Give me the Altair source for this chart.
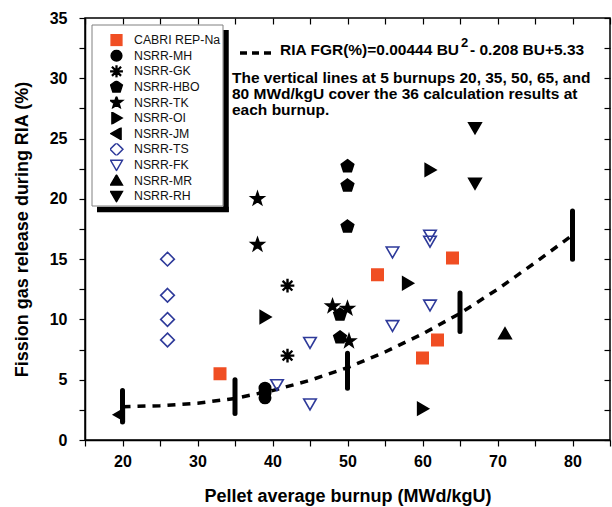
import altair as alt
import pandas as pd

# ---------------- data ----------------
series_names = ["CABRI REP-Na", "NSRR-MH", "NSRR-GK", "NSRR-HBO", "NSRR-TK", "NSRR-OI",
                "NSRR-JM", "NSRR-TS", "NSRR-FK", "NSRR-MR", "NSRR-RH"]

cabri_x = [33, 54, 64, 60, 62]
cabri_y = [5.5, 13.7, 15.1, 6.8, 8.3]
mh_x = [39, 39, 39]
mh_y = [3.5, 3.9, 4.3]
gk_x = [42, 42]
gk_y = [12.8, 7.0]
hbo_x = [50, 50, 50, 49, 49]
hbo_y = [22.7, 21.1, 17.7, 10.4, 8.5]
tk_x = [38, 38, 48, 50, 50.2]
tk_y = [20.0, 16.2, 11.1, 10.9, 8.2]
oi_x = [39, 61, 58, 60]
oi_y = [10.2, 22.4, 13.0, 2.6]
jm_x = [19.6]
jm_y = [2.1]
ts_x = [26, 26, 26, 26]
ts_y = [15.0, 12.0, 10.0, 8.3]
fk_x = [40.6, 45, 45, 56, 56, 61, 61, 61]
fk_y = [4.6, 8.1, 3.0, 15.6, 9.5, 17.0, 16.5, 11.2]
mr_x = [71]
mr_y = [8.8]
rh_x = [67, 67]
rh_y = [25.9, 21.3]

# calculation ranges (vertical bars)
bar_x = [20, 35, 50, 65, 80]
bar_lo = [1.5, 2.2, 4.3, 9.0, 15.0]
bar_hi = [4.1, 5.0, 7.2, 12.2, 19.0]

# fitted curve
fit_x = [20, 25, 30, 35, 40, 45, 50, 55, 60, 65, 70, 75, 80]
fit_y = [2.75, 2.85, 3.05, 3.45, 4.1, 4.95, 6.0, 7.3, 8.8, 10.5, 12.5, 14.7, 17.0]

x_ticks = [15, 20, 25, 30, 35, 40, 45, 50, 55, 60, 65, 70, 75, 80, 85]
y_ticks = [0, 2.5, 5, 7.5, 10, 12.5, 15, 17.5, 20, 22.5, 25, 27.5, 30, 32.5, 35]

# ---------------- styles ----------------
ORANGE = "#F04E23"
BLUE = "#2E3A9A"
BLACK = "#000000"
PENTAGON = "M0,-1.15 L1.094,-0.355 L0.676,0.93 L-0.676,0.93 L-1.094,-0.355 Z"
STAR = ("M0,-1.2 L0.282,-0.389 L1.141,-0.371 L0.456,0.149 L0.705,0.971 L0,0.48 "
        "L-0.705,0.971 L-0.456,0.149 L-1.141,-0.371 L-0.282,-0.389 Z")
ASTER = ("M-0.07,-1.2 L-0.07,1.2 M0.07,-1.2 L0.07,1.2 "
         "M-1.2,-0.07 L1.2,-0.07 M-1.2,0.07 L1.2,0.07 "
         "M-0.9,-0.8 L0.8,0.9 M-0.8,-0.9 L0.9,0.8 "
         "M-0.9,0.8 L0.8,-0.9 M-0.8,0.9 L0.9,-0.8")
DIAMOND = "M0,-1.2 L1.2,0 L0,1.2 L-1.2,0 Z"
TRI_DOWN = "M-1.1,-0.85 L1.1,-0.85 L0,1.05 Z"
TRI_UP = "M-1.1,0.85 L1.1,0.85 L0,-1.05 Z"
TRI_RIGHT = "M-0.85,-1.1 L-0.85,1.1 L1.05,0 Z"
TRI_LEFT = "M0.85,-1.1 L0.85,1.1 L-1.05,0 Z"

shape_range = ["square", "circle", ASTER, PENTAGON, STAR, TRI_RIGHT, TRI_LEFT,
               DIAMOND, TRI_DOWN, TRI_UP, TRI_DOWN]
fill_range = [ORANGE, BLACK, "transparent", BLACK, BLACK, BLACK, BLACK,
              "transparent", "transparent", BLACK, BLACK]
stroke_range = [ORANGE, BLACK, BLACK, BLACK, BLACK, BLACK, BLACK, BLUE, BLUE, BLACK, BLACK]

all_x = [cabri_x, mh_x, gk_x, hbo_x, tk_x, oi_x, jm_x, ts_x, fk_x, mr_x, rh_x]
all_y = [cabri_y, mh_y, gk_y, hbo_y, tk_y, oi_y, jm_y, ts_y, fk_y, mr_y, rh_y]
rows = []
for name, xs, ys in zip(series_names, all_x, all_y):
    for a, b in zip(xs, ys):
        rows.append({"series": name, "bu": a, "fgr": b})
pts = pd.DataFrame(rows)
bars = pd.DataFrame({"bu": bar_x, "lo": bar_lo, "hi": bar_hi})
fit = pd.DataFrame({"bu": fit_x, "fgr": fit_y})

FONT = "Liberation Sans"
xscale = alt.Scale(domain=[15, 85], nice=False, zero=False)
yscale = alt.Scale(domain=[0, 35], nice=False, zero=False)

legend = alt.Legend(orient="none", legendX=25, legendY=16, title=None, padding=0,
                    labelFont=FONT, labelFontSize=12.3, labelColor="#111111",
                    symbolSize=115, symbolStrokeWidth=1.5, rowPadding=2.6, labelOffset=11,
                    clipHeight=12.2,
                    fillColor="transparent", strokeColor="transparent")

x_axis = alt.Axis(values=x_ticks, labelExpr="datum.value % 10 == 0 ? datum.label : ''",
                  title="Pellet average burnup (MWd/kgU)", grid=False, tickSize=6,
                  labelPadding=7, labelFontSize=16, labelFontWeight="bold", labelFont=FONT,
                  labelColor="black", titleFont=FONT, titleFontSize=18, titleFontWeight="bold",
                  titleColor="black", titleY=56, titleBaseline="middle",
                  domainColor="black", domainWidth=1.5, tickColor="black", tickWidth=1.2)
y_axis = alt.Axis(values=y_ticks, labelExpr="datum.value % 5 == 0 ? datum.label : ''",
                  title="Fission gas release during RIA (%)", grid=False, tickSize=6,
                  labelPadding=12, labelFontSize=16, labelFontWeight="bold", labelFont=FONT,
                  labelColor="black", titleFont=FONT, titleFontSize=18, titleFontWeight="bold",
                  titleColor="black", titleX=-63, titleY=211, titleAngle=270,
                  titleAlign="center", titleBaseline="middle",
                  domainColor="black", domainWidth=1.5, tickColor="black", tickWidth=1.2)
top_axis = alt.Axis(orient="top", values=x_ticks, labels=False, title=None, domain=False,
                    grid=False, tickSize=6, offset=-6, tickColor="black", tickWidth=1.2)
right_axis = alt.Axis(orient="right", values=y_ticks, labels=False, title=None, domain=False,
                      grid=False, tickSize=6, offset=-6, tickColor="black", tickWidth=1.2)

one = alt.Data(values=[{"k": 1}])


def hrule(x1, x2, y, color, width):
    return alt.Chart(one).mark_rule(color=color, strokeWidth=width).encode(
        x=alt.value(x1), x2=alt.value(x2), y=alt.value(y))


def vrule(x, y1, y2, color, width):
    return alt.Chart(one).mark_rule(color=color, strokeWidth=width).encode(
        x=alt.value(x), y=alt.value(y1), y2=alt.value(y2))


# legend frame (gray box with black drop shadow)
frame = [
    vrule(141, 12, 194, "black", 5.5),
    hrule(12, 143.75, 191.5, "black", 5.5),
    hrule(7, 138, 7, "#808080", 1),
    hrule(7, 138, 188, "#808080", 1),
    vrule(7, 7, 188, "#808080", 1),
    vrule(138, 7, 188, "#808080", 1),
]

bar_layer = alt.Chart(bars).mark_rule(color="black", strokeWidth=5, strokeCap="round").encode(
    x=alt.X("bu:Q", scale=xscale, axis=None),
    y=alt.Y("lo:Q", scale=yscale, axis=None),
    y2="hi:Q")

fit_layer = alt.Chart(fit).mark_line(color="black", strokeWidth=3.5,
                                      strokeDash=[8, 7]).encode(
    x=alt.X("bu:Q", scale=xscale, axis=top_axis),
    y=alt.Y("fgr:Q", scale=yscale, axis=right_axis))

point_layer = alt.Chart(pts).mark_point(filled=True, size=130, strokeWidth=1.6,
                                         opacity=1, fillOpacity=1).encode(
    x=alt.X("bu:Q", scale=xscale, axis=x_axis),
    y=alt.Y("fgr:Q", scale=yscale, axis=y_axis),
    shape=alt.Shape("series:N", scale=alt.Scale(domain=series_names, range=shape_range),
                    legend=legend),
    fill=alt.Fill("series:N", scale=alt.Scale(domain=series_names, range=fill_range),
                  legend=legend),
    stroke=alt.Stroke("series:N", scale=alt.Scale(domain=series_names, range=stroke_range),
                      legend=legend))

eq_dash = alt.Chart(one).mark_rule(color="black", strokeWidth=3.5, strokeDash=[7, 5]).encode(
    x=alt.value(155), x2=alt.value(191), y=alt.value(35))
eq_a = alt.Chart(one).mark_text(text="RIA FGR(%)=0.00444 BU", font=FONT, fontSize=15.5,
                                 fontWeight="bold", align="left", baseline="middle",
                                 color="black").encode(x=alt.value(195), y=alt.value(32))
eq_sup = alt.Chart(one).mark_text(text="2", font=FONT, fontSize=13, fontWeight="bold",
                                   align="left", baseline="middle", color="black").encode(
    x=alt.value(376), y=alt.value(25))
eq_b = alt.Chart(one).mark_text(text=" - 0.208 BU+5.33", font=FONT, fontSize=15.5,
                                 fontWeight="bold", align="left", baseline="middle",
                                 color="black").encode(x=alt.value(385), y=alt.value(32))
note_lines = ["The vertical lines at 5 burnups 20, 35, 50, 65, and",
              " 80 MWd/kgU cover the 36 calculation results at",
              " each burnup."]
note_layers = []
for i, line in enumerate(note_lines):
    note_layers.append(alt.Chart(one).mark_text(
        text=line, font=FONT, fontSize=15.5, fontWeight="bold", align="left",
        baseline="middle", color="black").encode(x=alt.value(147), y=alt.value(60 + 16 * i)))

chart = alt.layer(*frame, bar_layer, fit_layer, point_layer,
                  eq_dash, eq_a, eq_sup, eq_b, *note_layers).resolve_axis(
    x="independent", y="independent").properties(
    width=525, height=422,
    autosize=alt.AutoSizeParams(type="none"),
    padding={"left": 85, "top": 18, "right": 2, "bottom": 67},
    background="white").configure_view(stroke="black", strokeWidth=1.5)

chart.save("out.html", embed_options={"renderer": "svg", "actions": False})
